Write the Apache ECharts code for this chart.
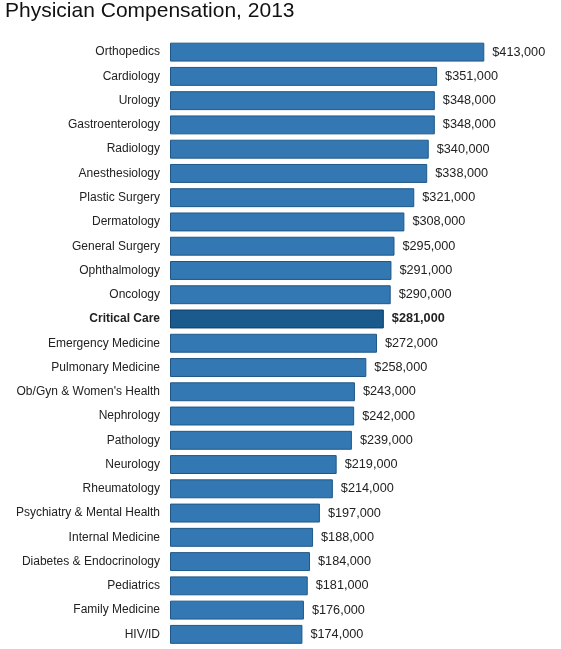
<!DOCTYPE html>
<html><head><meta charset="utf-8">
<script src="https://cdn.jsdelivr.net/npm/echarts@6/dist/echarts.min.js"></script>
<style>html,body{margin:0;padding:0;background:#fff}#c{width:561px;height:649px}</style>
</head><body><div id="c"></div>
<script>
const categories = ["Orthopedics","Cardiology","Urology","Gastroenterology","Radiology","Anesthesiology","Plastic Surgery","Dermatology","General Surgery","Ophthalmology","Oncology","Critical Care","Emergency Medicine","Pulmonary Medicine","Ob/Gyn & Women's Health","Nephrology","Pathology","Neurology","Rheumatology","Psychiatry & Mental Health","Internal Medicine","Diabetes & Endocrinology","Pediatrics","Family Medicine","HIV/ID"];
const values = [413000,351000,348000,348000,340000,338000,321000,308000,295000,291000,290000,281000,272000,258000,243000,242000,239000,219000,214000,197000,188000,184000,181000,176000,174000];
const highlight = "Critical Care";

const chart = echarts.init(document.getElementById('c'));
const fmt = v => '$' + v.toLocaleString('en-US');
chart.setOption({
  animation: false,
  title: { text: 'Physician Compensation, 2013', left: 0, top: -4,
    textStyle: { fontFamily: 'Liberation Sans', fontSize: 21, fontWeight: 'normal', color: '#111' } },
  grid: { left: 170, top: 40, width: 380.5, bottom: 2.5 },
  xAxis: { type: 'value', min: 0, max: 500000, show: false },
  yAxis: { type: 'category', inverse: true, data: categories,
    axisLine: { show: false }, axisTick: { show: false },
    axisLabel: { margin: 10, fontFamily: 'Liberation Sans', fontSize: 12, color: '#222',
      formatter: v => v === highlight ? '{b|' + v + '}' : v,
      rich: { b: { fontWeight: 'bold', fontFamily: 'Liberation Sans', fontSize: 12, color: '#222' } } } },
  series: [{ type: 'bar', barCategoryGap: '22%',
    data: values.map((v, i) => categories[i] === highlight ? {
      value: v,
      itemStyle: { color: '#1a5a8c', borderColor: '#0f3f6a', borderWidth: 1 },
      label: { fontWeight: 'bold' } } : v),
    itemStyle: { color: '#3378b2', borderColor: '#1f5888', borderWidth: 1 },
    label: { show: true, position: 'right', distance: 8, formatter: p => fmt(p.value),
      fontFamily: 'Liberation Sans', fontSize: 12.7, color: '#222' } }]
});
</script></body></html>
